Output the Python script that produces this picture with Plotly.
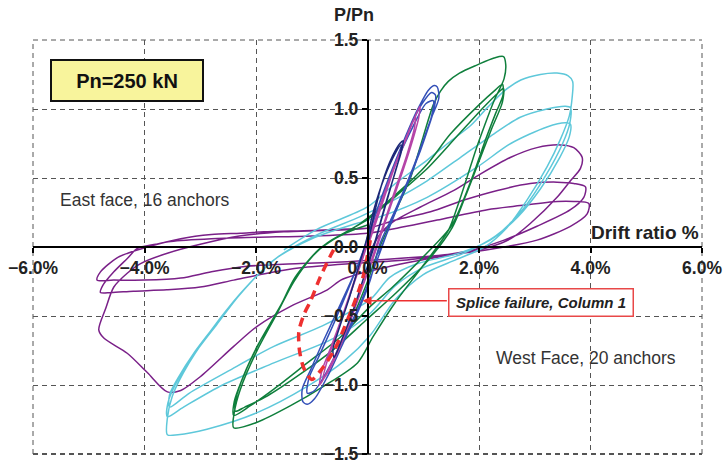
import plotly.graph_objects as go

# ---------------- data (drift %, P/Pn) ----------------
x_ticks = [-6, -4, -2, 0, 2, 4, 6]
x_ticktext = ["\u22126.0%", "\u22124.0%", "\u22122.0%", "0.0%", "2.0%", "4.0%", "6.0%"]
y_ticks = [-1.5, -1.0, -0.5, 0.0, 0.5, 1.0, 1.5]
y_ticktext = ["\u22121.5", "\u22121.0", "\u22120.5", "0.0", "0.5", "1.0", "1.5"]

purple_pts = [
    (0.0, -0.08), (0.2, 0.08), (0.45, 0.18), (0.95, 0.29), (1.55, 0.41), (2.03, 0.53), (2.57, 0.65),
    (3.04, 0.72), (3.46, 0.74), (3.7, 0.72), (3.85, 0.65),
    (3.82, 0.57), (3.64, 0.48), (3.4, 0.36), (2.92, 0.17), (2.57, 0.06), (2.2, 0.0), (1.6, -0.05),
    (0.9, -0.1), (0.3, -0.15), (-0.2, -0.2), (-0.48, -0.24), (-0.72, -0.31), (-1.38, -0.43),
    (-1.98, -0.575), (-2.4, -0.72), (-3.0, -0.94), (-3.35, -1.04), (-3.59, -1.05), (-3.95, -0.91),
    (-4.31, -0.77), (-4.73, -0.66), (-4.82, -0.6),
    (-4.7, -0.45), (-4.55, -0.29), (-4.31, -0.19), (-4.07, -0.12), (-3.59, -0.045), (-3.0, 0.02),
    (-2.3, 0.08), (-1.5, 0.11), (-0.8, 0.12), (0.0, 0.135), (0.5, 0.195), (1.13, 0.255), (1.73, 0.34),
    (2.33, 0.41), (2.92, 0.46), (3.4, 0.47), (3.7, 0.46), (3.91, 0.435),
    (3.88, 0.36), (3.64, 0.27), (3.04, 0.15), (2.45, 0.05), (1.9, -0.02), (1.2, -0.07), (0.5, -0.1),
    (-0.3, -0.12), (-1.2, -0.15), (-1.8, -0.19), (-2.4, -0.24), (-3.0, -0.29), (-3.6, -0.31),
    (-4.2, -0.32), (-4.6, -0.33), (-4.79, -0.33),
    (-4.75, -0.28), (-4.55, -0.18), (-4.3, -0.08), (-4.13, -0.01), (-3.8, 0.02), (-3.53, 0.04),
    (-2.8, 0.06), (-2.0, 0.07), (-1.0, 0.08), (0.0, 0.1), (0.65, 0.146), (1.25, 0.195), (2.15, 0.27),
    (2.74, 0.3), (3.4, 0.33), (3.7, 0.33), (3.97, 0.315),
    (3.94, 0.24), (3.64, 0.15), (3.04, 0.05), (2.45, 0.0), (1.8, -0.04), (1.0, -0.07), (0.3, -0.09),
    (-0.36, -0.106), (-1.2, -0.12), (-2.16, -0.14), (-2.8, -0.18), (-3.35, -0.225), (-4.0, -0.24),
    (-4.55, -0.24), (-4.85, -0.24),
    (-4.79, -0.18), (-4.5, -0.08), (-4.3, -0.045), (-3.95, 0.0), (-3.35, 0.06), (-2.8, 0.09),
    (-2.28, 0.1), (-1.86, 0.11), (-1.0, 0.12), (0.0, 0.135),
]

cyan_pts = [
    (-1.5, -0.02), (-0.9, 0.13), (0.0, 0.29), (0.5, 0.46), (1.07, 0.63), (1.5, 0.77), (1.85, 0.88),
    (2.15, 1.01), (2.45, 1.13), (2.75, 1.21), (3.1, 1.25), (3.4, 1.26), (3.6, 1.24), (3.68, 1.2),
    (3.67, 1.08), (3.62, 0.95), (3.46, 0.78), (3.22, 0.58), (2.86, 0.34), (2.5, 0.14), (2.1, 0.0),
    (1.6, -0.09), (1.0, -0.2), (0.5, -0.38), (0.05, -0.64), (-0.4, -0.82), (-1.08, -1.01),
    (-1.98, -1.2), (-2.88, -1.32), (-3.4, -1.36), (-3.59, -1.36),
    (-3.59, -1.24), (-3.5, -1.08), (-3.2, -0.84), (-2.65, -0.52), (-2.2, -0.3), (-1.6, -0.07),
    (-0.9, 0.09), (-0.13, 0.22), (0.47, 0.34), (1.07, 0.48), (1.67, 0.65), (2.27, 0.82), (2.74, 0.94),
    (3.22, 1.0), (3.55, 1.02), (3.64, 1.01),
    (3.63, 0.9), (3.5, 0.75), (3.2, 0.52), (2.8, 0.28), (2.3, 0.08), (1.7, -0.05), (1.0, -0.15),
    (0.5, -0.28), (0.05, -0.48), (-0.6, -0.66), (-1.68, -0.84), (-2.6, -1.0), (-3.3, -1.16),
    (-3.59, -1.23),
    (-3.58, -1.13), (-3.45, -1.0), (-3.15, -0.8), (-2.7, -0.56), (-2.3, -0.35), (-1.7, -0.1),
    (-1.0, 0.06), (-0.2, 0.17), (0.23, 0.22), (1.07, 0.36), (1.97, 0.58), (2.57, 0.75), (3.22, 0.87),
    (3.55, 0.9), (3.64, 0.89),
    (3.62, 0.8), (3.45, 0.65), (3.1, 0.42), (2.7, 0.22), (2.2, 0.05), (1.6, -0.05), (0.9, -0.12),
    (0.4, -0.22), (0.05, -0.38), (-0.8, -0.57), (-1.68, -0.72), (-2.5, -0.9), (-3.2, -1.06),
    (-3.55, -1.16),
    (-3.55, -1.07), (-3.4, -0.95), (-3.1, -0.76), (-2.7, -0.55),
]

green_pts = [
    (-0.2, -0.45), (0.0, -0.25), (0.2, -0.02), (0.35, 0.12), (0.55, 0.3), (0.77, 0.5), (1.0, 0.8),
    (1.18, 1.03), (1.31, 1.13), (1.45, 1.2), (1.65, 1.26), (1.97, 1.32), (2.27, 1.37), (2.44, 1.38),
    (2.48, 1.32), (2.45, 1.22), (2.27, 1.06), (2.09, 0.87), (1.94, 0.7), (1.79, 0.51), (1.61, 0.29),
    (1.45, 0.12), (1.1, -0.08), (0.5, -0.4), (0.1, -0.65), (-0.18, -0.84), (-0.79, -1.01),
    (-1.38, -1.15), (-1.98, -1.27), (-2.4, -1.31),
    (-2.39, -1.2), (-2.28, -1.03), (-1.98, -0.75), (-1.62, -0.48), (-1.32, -0.25), (-0.97, -0.06),
    (-0.72, 0.03), (-0.13, 0.17), (0.59, 0.41), (1.07, 0.6), (1.49, 0.82), (2.0, 1.03), (2.3, 1.14),
    (2.42, 1.18),
    (2.43, 1.1), (2.3, 0.97), (2.12, 0.78), (1.92, 0.55), (1.7, 0.32), (1.5, 0.15), (1.05, -0.05),
    (0.45, -0.29), (0.05, -0.43), (-0.48, -0.65), (-1.08, -0.84), (-1.68, -1.03), (-2.1, -1.15),
    (-2.4, -1.22),
    (-2.39, -1.12), (-2.26, -0.97), (-1.98, -0.72), (-1.6, -0.46), (-1.3, -0.22), (-0.9, -0.03),
    (-0.55, 0.07), (0.0, 0.2), (0.6, 0.4), (1.1, 0.58), (1.6, 0.8), (2.1, 1.02), (2.35, 1.12),
    (2.44, 1.15),
    (2.42, 1.05), (2.22, 0.85), (1.98, 0.6), (1.75, 0.36), (1.52, 0.14), (1.08, -0.1), (0.52, -0.33),
    (0.0, -0.52), (-0.6, -0.74), (-1.2, -0.92), (-1.8, -1.08), (-2.2, -1.16), (-2.37, -1.19),
    (-2.36, -1.1), (-2.22, -0.93), (-1.95, -0.7), (-1.58, -0.44), (-1.25, -0.2), (-0.85, -0.01),
    (-0.4, 0.1), (0.0, 0.16),
]

blue_pts = [
    (-0.1, -0.1), (0.0, 0.07), (0.17, 0.27), (0.41, 0.53), (0.65, 0.77), (0.89, 0.99), (1.1, 1.14),
    (1.2, 1.17), (1.25, 1.16), (1.28, 1.08), (1.13, 0.92), (0.89, 0.65), (0.65, 0.41), (0.41, 0.19),
    (0.23, 0.03), (0.05, -0.24), (-0.13, -0.43), (-0.43, -0.69), (-0.72, -0.94), (-0.95, -1.1),
    (-1.08, -1.14), (-1.16, -1.12), (-1.17, -1.03), (-1.02, -0.89), (-0.78, -0.67), (-0.48, -0.41),
    (-0.18, -0.14), (0.02, 0.08), (0.25, 0.36), (0.5, 0.62), (0.75, 0.86), (0.98, 1.04), (1.15, 1.12),
    (1.22, 1.1), (1.18, 0.98), (1.0, 0.76), (0.78, 0.52), (0.55, 0.3), (0.35, 0.1), (0.15, -0.12),
    (-0.1, -0.38), (-0.4, -0.64), (-0.7, -0.88), (-0.95, -1.04), (-1.08, -1.06), (-1.05, -0.95),
    (-0.88, -0.8), (-0.6, -0.55), (-0.3, -0.26), (-0.05, 0.0), (0.2, 0.3), (0.5, 0.6), (0.8, 0.86),
    (1.05, 1.04), (1.18, 1.06), (1.15, 0.95), (0.95, 0.7), (0.7, 0.45), (0.45, 0.2), (0.2, -0.05),
]

magenta_pts = [
    (0.0, 0.0), (0.23, 0.27), (0.47, 0.56), (0.71, 0.8), (0.85, 0.94), (0.94, 1.02), (0.92, 0.94),
    (0.8, 0.76), (0.65, 0.57), (0.47, 0.36), (0.3, 0.16), (0.12, -0.06), (-0.1, -0.3), (-0.35, -0.58),
    (-0.6, -0.8), (-0.78, -0.95), (-0.86, -1.0), (-0.82, -0.9), (-0.65, -0.72), (-0.45, -0.5),
    (-0.22, -0.24), (0.0, 0.02), (0.2, 0.27), (0.45, 0.55), (0.7, 0.8), (0.86, 0.95), (0.84, 0.86),
    (0.7, 0.66), (0.5, 0.42), (0.3, 0.18), (0.1, -0.06), (-0.15, -0.35), (-0.45, -0.68), (-0.7, -0.9),
    (-0.8, -0.96), (-0.74, -0.85), (-0.55, -0.62), (-0.3, -0.32), (-0.1, -0.08), (0.05, 0.1),
]

navy_pts = [
    (0.0, 0.0), (0.1, 0.2), (0.26, 0.46), (0.45, 0.66), (0.58, 0.75), (0.64, 0.77), (0.6, 0.68),
    (0.5, 0.55), (0.38, 0.38), (0.23, 0.17), (0.1, -0.02), (-0.05, -0.2), (-0.25, -0.45),
    (-0.45, -0.66), (-0.6, -0.8), (-0.62, -0.74), (-0.5, -0.58), (-0.32, -0.36), (-0.15, -0.13),
    (-0.02, 0.05), (0.12, 0.28), (0.3, 0.5), (0.5, 0.68), (0.6, 0.74), (0.58, 0.66), (0.45, 0.48),
    (0.3, 0.28), (0.15, 0.06), (0.0, -0.12),
]

failure_pts = [
    (0.05, 0.05), (-0.07, -0.2), (-0.16, -0.32), (-0.35, -0.52), (-0.6, -0.75), (-0.85, -0.9),
    (-1.0, -0.96), (-1.14, -0.88), (-1.22, -0.75), (-1.23, -0.61), (-1.13, -0.48), (-1.02, -0.39),
    (-0.85, -0.22), (-0.66, -0.06), (-0.55, 0.02),
]

series = [
    ("purple", purple_pts, "#7A2088", 1.5, "solid"),
    ("cyan", cyan_pts, "#5EC8DA", 1.5, "solid"),
    ("green", green_pts, "#0F7F3C", 1.5, "solid"),
    ("blue", blue_pts, "#3450B8", 1.5, "solid"),
    ("magenta", magenta_pts, "#B545A8", 1.5, "solid"),
    ("navy", navy_pts, "#1C2878", 1.5, "solid"),
    ("failure", failure_pts, "#EE3030", 3.5, "9px,6px"),
]

fig = go.Figure()
for name, pts, color, w, dash in series:
    xs = [p[0] for p in pts]
    ys = [p[1] for p in pts]
    fig.add_trace(go.Scatter(
        x=xs, y=ys, mode="lines", name=name,
        line=dict(color=color, width=w, dash=dash, shape="spline", smoothing=0.8),
        hoverinfo="skip",
    ))

FONT = "Liberation Sans, Arial, sans-serif"
tickfont = dict(family=FONT, size=17.5, color="#222", weight="bold")
GRID = "#555"
GDASH = "5px,4px"

fig.update_layout(
    width=723, height=463,
    margin=dict(l=33, r=21, t=40, b=9, autoexpand=False),
    plot_bgcolor="white", paper_bgcolor="white",
    showlegend=False,
    xaxis=dict(
        range=[-6, 6], tickvals=x_ticks, ticktext=x_ticktext,
        anchor="free", position=0.5, ticklabeloverflow="allow", automargin=False,
        showline=True, linecolor="black", linewidth=1.5,
        ticks="outside", ticklen=5, tickwidth=1.5, tickcolor="black",
        showgrid=True, gridcolor=GRID, gridwidth=1, griddash=GDASH,
        zeroline=False, tickfont=tickfont, fixedrange=True,
    ),
    yaxis=dict(
        range=[-1.5, 1.5], tickvals=y_ticks, ticktext=y_ticktext,
        anchor="free", position=0.5, ticklabeloverflow="allow", automargin=False,
        showline=True, linecolor="black", linewidth=1.5,
        ticks="outside", ticklen=5, tickwidth=1.5, tickcolor="black",
        showgrid=True, gridcolor=GRID, gridwidth=1, griddash=GDASH,
        zeroline=False, tickfont=tickfont, fixedrange=True,
    ),
    shapes=[
        dict(type="line", xref="paper", yref="paper", x0=0, x1=1, y0=1, y1=1,
             line=dict(color=GRID, width=1, dash=GDASH), layer="below"),
        dict(type="line", xref="paper", yref="paper", x0=0, x1=0, y0=0, y1=1,
             line=dict(color=GRID, width=1, dash=GDASH), layer="below"),
        dict(type="line", xref="paper", yref="paper", x0=1, x1=1, y0=0, y1=1,
             line=dict(color=GRID, width=1, dash=GDASH), layer="below"),
        dict(type="line", xref="paper", yref="paper", x0=0, x1=1, y0=0, y1=0,
             line=dict(color=GRID, width=2, dash=GDASH), layer="below"),
    ],
)

annotations = [
    dict(text="P/Pn", xref="paper", yref="paper", x=0.48, y=1.06,
         xanchor="center", yanchor="middle", showarrow=False,
         font=dict(family=FONT, size=18, color="#222", weight="bold")),
    dict(text="Drift ratio %", xref="paper", yref="paper", x=0.998, y=0.536,
         xanchor="right", yanchor="middle", showarrow=False,
         font=dict(family=FONT, size=19, color="#222", weight="bold")),
    dict(text="East face, 16 anchors", xref="paper", yref="paper", x=0.1667, y=0.6135,
         xanchor="center", yanchor="middle",
         showarrow=False, font=dict(family=FONT, size=17.5, color="#333")),
    dict(text="West Face, 20 anchors", xref="paper", yref="paper", x=0.8266, y=0.2319,
         xanchor="center", yanchor="middle",
         showarrow=False, font=dict(family=FONT, size=17.5, color="#333")),
    dict(text="Pn=250 kN", xref="paper", yref="paper", x=0.1398, y=0.901,
         xanchor="center", yanchor="middle",
         showarrow=False, width=148, height=37, bgcolor="#F8F49C",
         bordercolor="#111", borderwidth=2, borderpad=1,
         font=dict(family=FONT, size=20, color="#111", weight="bold")),
    dict(text="<i>Splice failure, Column 1</i>", xref="paper", yref="paper", x=0.7586, y=0.367,
         xanchor="center", yanchor="middle",
         showarrow=False, width=181, height=24, bgcolor="white",
         bordercolor="#E84848", borderwidth=1.5, borderpad=1,
         font=dict(family=FONT, size=15, color="#222", weight="bold")),
    dict(text="", x=-0.09, y=-0.39, ax=1.45, ay=-0.39, axref="x", ayref="y",
         xref="x", yref="y", showarrow=True, arrowhead=2, arrowsize=1.2,
         arrowwidth=1.5, arrowcolor="#EE3030", standoff=0),
]
fig.update_layout(annotations=annotations)

fig.write_html(
    "out.html",
    config={"displayModeBar": False},
    post_script="document.body.style.margin='0';document.body.style.overflow='hidden';",
)
